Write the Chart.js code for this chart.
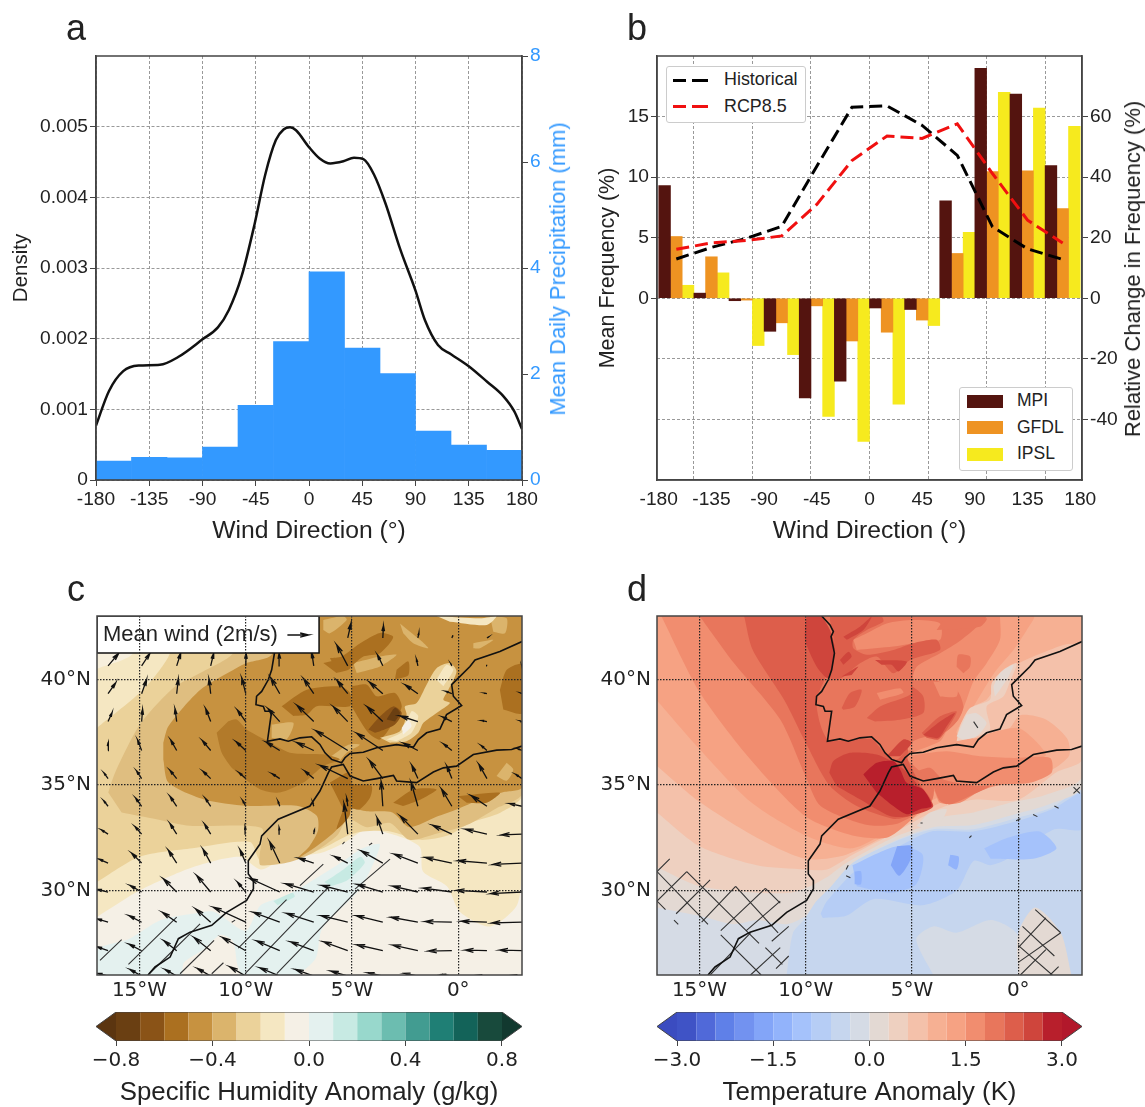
<!DOCTYPE html>
<html>
<head>
<meta charset="utf-8">
<title>Wind direction and anomalies</title>
<script src="https://cdn.jsdelivr.net/npm/chart.js@4"></script>
<style>
  body { margin: 0; background: #fff; }
  canvas { position: absolute; }
  .txt { position: absolute; white-space: nowrap; color: #222; font-family: "Liberation Sans", sans-serif; line-height: 1; transform: translate(-50%, -50%); }
  .box { position: absolute; background: #fff; border: 1px solid #ccc; border-radius: 3px; box-sizing: border-box; }
  .swatch { position: absolute; }
</style>
</head>
<body>
<canvas id="panelA" width="575" height="550" style="left:0;top:0"></canvas>
<canvas id="panelB" width="570" height="550" style="left:575px;top:0"></canvas>
<canvas id="panelC" width="575" height="450" style="left:0;top:570px"></canvas>
<canvas id="panelD" width="570" height="450" style="left:575px;top:570px"></canvas>
<canvas id="barC" width="575" height="107" style="left:0;top:1000px"></canvas>
<canvas id="barD" width="570" height="107" style="left:575px;top:1000px"></canvas>
<script>
// panel a
const densityDir = [-180,-169,-157,-144,-126,-110.6,-90,-77,-67.6,-57,-46,-37,-28,-21.5,-16,-11,0,9,18,29,38,46,55,64.5,77,90,98,109,120,135,150.5,164,173.5,180];
const densityVal = [.00077,.00126,.00154,.00162,.00163,.00174,.00199,.00216,.00241,.00288,.00362,.00432,.00481,.00496,.00499,.00495,.00471,.00455,.00448,.00451,.00456,.00454,.00432,.00392,.00327,.00268,.00226,.00191,.00178,.00161,.00139,.00119,.00097,.00072];
const binCentres = [-165,-135,-105,-75,-45,-15,15,45,75,105,135,165];
const precip = [.357,.43,.417,.62,1.41,2.61,3.93,2.49,2.01,.925,.66,.56];

// panel b
const historical = [3.24,4.2,4.95,5.93,10.9,15.77,15.88,14.27,11.8,5.9,4.08,3.2];
const rcp85 = [4.05,4.57,4.77,5.15,7.75,11.37,13.4,13.2,14.4,10.3,6.45,4.57];
const mpi = [37.2,1.7,-.8,-10.9,-32.9,-27.4,-3.2,-3.7,32.2,75.9,67.4,43.8];
const gfdl = [20.4,13.7,-.6,-8.1,-2.5,-14.1,-11.2,-7.2,14.8,41.8,42.1,29.6];
const ipsl = [4.3,8.4,-15.6,-18.6,-39,-47.3,-35,-9,21.8,68,62.8,56.8];
const dirTicks = [-180,-135,-90,-45,0,45,90,135,180];

// coast lines, lon/lat
const coastIberia = [[-9.25,43],[-8.86,42.58],[-8.7,42.26],[-8.81,42.02],[-8.65,41.24],[-8.78,40.45],[-8.94,39.98],[-9.25,39.43],[-9.49,39.2],[-9.52,38.8],[-9.17,38.72],[-9.09,38.49],[-8.78,38.49],[-8.86,37.94],[-8.98,37.07],[-8.39,37.18],[-8,37.07],[-7.45,37.23],[-6.9,37.28],[-6.51,36.92],[-6.27,36.52],[-5.96,36.21],[-5.49,36.05],[-5.33,36.29],[-5.09,36.49],[-4.47,36.55],[-3.84,36.76],[-2.9,36.91],[-2.11,36.79],[-1.88,37.15],[-1.49,37.47],[-.86,37.65],[-.55,38.33],[.16,38.76],[-.23,39.2],[-.31,39.75],[0,40.06],[.55,40.61],[.79,40.92],[1.96,41.32],[3,41.79]];
const coastAfrica = [[-14.6,26],[-14.27,26.38],[-13.56,26.85],[-13.17,27.72],[-12.62,28.03],[-11.6,28.35],[-10.9,28.97],[-9.96,29.53],[-9.64,30.08],[-9.64,30.47],[-9.88,30.78],[-9.88,31.41],[-9.33,32.2],[-9.25,32.59],[-8.47,33.38],[-6.98,34],[-6.51,34.71],[-6.11,35.58],[-5.96,35.85],[-5.41,35.97],[-5.09,35.42],[-4.47,35.19],[-3.84,35.3],[-3.05,35.45],[-2.9,35.19],[-1.96,35.11],[-1.17,35.61],[-.7,35.81],[-.08,35.89],[.71,36.44],[1.81,36.65],[2.51,36.68],[3,36.84]];

// panel c wind grid, quiver units (63 = 2 m/s)
const windLon = [-16.48,-14.9,-13.25,-11.65,-10,-8.4,-6.8,-5.2,-3.55,-1.9,-.3,1.35,3];
const windLat = [41.96,40.64,39.32,38,36.63,35.3,33.99,32.67,31.3,29.93,28.5,27.15,25.95];
const windU = [
  [null,null,null,null,null,null,null,10,2,3,3,5,2],
  [32,25,12,9,1,-2,-6,-33,-16,-4,-3,-1,-1],
  [23,15,5,-5,-12,-27,-30,-32,-40,-38,-18,-8,-4],
  [12,3,-5,-15,-25,-35,-50,-43,-47,-53,-28,-15,-5],
  [0,-12,-18,-25,-29,-40,-51,-96,-78,-43,-25,-17,-12],
  [-12,-15,-20,-23,-20,-23,-27,-83,-40,-18,-15,-24,-19],
  [-13,-18,-20,-16,-9,-5,-3,-3,-5,-20,-31,-47,-37],
  [-20,-20,-20,-18,-2,-2,2,-11,-17,-53,-58,-65,-62],
  [-27,-30,-25,-23,-17,-30,-45,-40,-65,-71,-80,-87,-87],
  [-33,-35,-40,-42,-25,-90,-85,-78,-77,-76,-86,-92,-94],
  [-33,-38,-43,-45,-97,-80,-82,-80,-80,-81,-80,-77,-90],
  [-33,-38,-38,-50,-70,-70,-70,-73,-78,-75,-70,-65,-67],
  [-30,-35,-35,-40,-48,-60,-55,-50,-45,-40,-30,-25,-25]
];
const windV = [
  [null,null,null,null,null,null,null,45,37,15,8,3,2],
  [38,38,38,38,38,38,40,63,33,20,6,3,2],
  [33,43,45,45,48,48,45,40,35,27,7,2,2],
  [27,37,39,39,35,39,49,45,45,17,14,3,2],
  [24,32,32,30,27,25,24,60,52,22,20,15,5],
  [17,23,25,22,18,15,23,40,55,40,38,43,13],
  [17,25,30,24,17,15,12,25,75,72,52,32,8],
  [13,23,32,30,23,20,13,92,49,55,27,15,-2],
  [12,30,39,42,40,64,15,20,37,27,17,7,-4],
  [8,20,40,50,30,41,25,20,23,18,12,5,-5],
  [10,20,30,40,45,30,27,20,20,15,2,3,-2],
  [12,20,30,40,40,30,27,27,18,17,-1,2,2],
  [8,20,20,23,28,25,20,15,10,8,5,3,3]
];
const keyArrowLon = [-8.04];
const keyArrowLat = [42.1];
const keyArrowU = [63];
const keyArrowV = [0];

// humidity contours, lon/lat, outer to inner
const humTeal = [[-17,26],[-17,27.2],[-15.5,27.7],[-14,28.6],[-12.5,28.9],[-11.5,29],[-10,28.1],[-9.3,29.3],[-8.1,29.75],[-6.5,30.7],[-5.4,31.4],[-4.5,32],[-3.7,32.2],[-3.9,31.5],[-4.6,30.1],[-6.4,28.2],[-6.7,26.8],[-7.5,26]];
const humCreamBlob = [[-13,26],[-12.9,26.6],[-12,27.2],[-11.2,27.9],[-10.6,27.6],[-10.4,26.5],[-10.2,26]];
const humTeal2a = [[-6.3,30.4],[-5.4,31],[-4.6,31.6],[-4.4,31.3],[-5.2,30.5],[-6,30.2]];
const humTeal2b = [[-8.7,29.5],[-7.8,29.9],[-7.7,29.7],[-8.5,29.3]];
const humL1 = [[-17,28.75],[-15,30],[-12.5,31.1],[-10.3,31.6],[-9.3,31],[-8.4,31.4],[-7.6,31.6],[-6.4,31.8],[-5.3,32.3],[-4.3,32.9],[-2.9,32.6],[-1.8,32.05],[-1.66,30.9],[-.53,30.2],[.07,29],[1.5,28.3],[2.76,29.3],[3,31.2],[3,43],[-17,43]];
const humCorner = [[-17,40.5],[-15.3,41.24],[-15.3,43],[-17,43]];
const humL2 = [[-17,30.4],[-15,31.6],[-12.5,32],[-9.8,32.3],[-9.3,31.4],[-8.06,31.4],[-6.36,32],[-5.2,32.6],[-4.5,32.8],[-3.2,32.8],[-1.8,32.4],[-.5,32.6],[.55,33.2],[2,33.7],[3,34.5],[3,43],[-13.3,43],[-13.57,41.24],[-14.04,40.46],[-14.98,39.36],[-17,37.7]];
const humL3 = [[-16.47,34.64],[-16.15,35.58],[-14.98,37.86],[-13.41,39.59],[-12.15,40.3],[-10.59,41.24],[-10,43],[3,43],[3,34.6],[1.8,33.9],[.4,33.1],[-1,32.7],[-2.3,32.4],[-3.2,33.2],[-4.3,33],[-5.2,33.4],[-5.7,32.6],[-6.8,31.8],[-7.92,31.35],[-9.3,31.2],[-9.35,31.65],[-9.2,32.9],[-9.96,33.07],[-12.62,33.07],[-14.2,33.38],[-15.84,33.7]];
const humL4 = [[-13.88,37],[-13.64,37.78],[-12.15,39.5],[-10.43,40.54],[-9.96,40.77],[-8.78,41.16],[-8.6,43],[3,43],[3,34.9],[2.1,34.65],[1,34.3],[-.05,33.85],[-1,33.5],[-2.3,33],[-3.1,33.7],[-4.3,33.75],[-5.2,33.85],[-5.7,32.9],[-6.8,32],[-7.6,31.5],[-7,32.1],[-6.6,32.85],[-6.66,33.54],[-7.6,34.01],[-9.96,34.01],[-12,34.32],[-13.64,35.11],[-13.88,36.2]];
const humL5a = [[-11.37,37.47],[-11.13,36.53],[-10.58,35.74],[-9.33,34.8],[-8.39,34.64],[-7.29,35.11],[-6.35,35.9],[-5.57,36.21],[-6.35,36.45],[-7.92,36.53],[-9.1,37.15],[-9.96,37.63],[-10.43,38.1],[-10.82,38.02]];
const humL5b = [[-5.02,39.67],[-4.3,39.75],[-3.84,39.2],[-2.98,39.35],[-2.66,38.72],[-3.06,37.94],[-3.68,37.15],[-4.23,37.47],[-5.02,38.72]];
const humL5c = [[1.96,39.5],[2.28,40.45],[3,40.7],[3,38.4],[2.12,38.57]];
const humL5d = [[-6.04,41],[-5.5,41.08],[-4.63,41.7],[-3.68,42.2],[-3.06,42],[-3.68,41.24],[-4.47,41.08],[-5.25,40.45],[-5.72,40.45]];
const humL5e = [[-2.9,40.45],[-2.35,40.85],[-2.35,40.2],[-2.98,40]];
const humL5g = [[-5.02,35.03],[-4.08,34.95],[-4.15,34.4],[-4.63,33.85],[-5.02,33.9]];
const humL5h = [[-3.06,34.16],[-2.1,34.79],[-1.02,34.79],[-1.8,34.3],[-2.6,34]];
const humL5i = [[0,34.47],[1.96,34.63],[1.34,34.16],[.4,34.16]];
const humL5j = [[-8.31,38.73],[-7.13,39.51],[-5.57,39.67],[-5.1,39.36],[-5.1,38.73],[-6.66,38.73],[-7.13,38.33],[-7.76,38.26]];
const humL5k = [[-6.35,40.77],[-5.1,41],[-5.1,40.5],[-5.73,40.3]];
const humL5m = [[-6.04,35.11],[-5.1,35.58],[-5.1,33.6],[-5.72,32.9],[-5.41,33.85]];
const humCore = [[-4.23,37.62],[-3.68,38.25],[-3.06,38.72],[-2.66,38.41],[-2.98,37.86],[-3.68,37.54],[-3.92,37.47]];
const humCore2 = [[-3.37,38.1],[-2.98,38.65],[-2.74,38.41],[-2.98,38]];
const humRidge = [[-3.68,37.23],[-2.74,37.54],[-2.43,38.33],[-2.51,38.72],[-1.96,38.88],[-1.49,39.75],[-1.02,40.53],[-.39,40.77],[-.08,40.37],[-.47,39.5],[-.7,39.04],[-.39,38.88],[-1.02,38.41],[-1.64,37.94],[-1.88,37.47],[-2.43,37.07],[-3.21,37]];
const humRidge2a = [[-3.37,37.15],[-2.59,37.54],[-2.2,38.49],[-1.88,38.25],[-2.2,37.47],[-2.9,37.07]];
const humRidge2b = [[-1.02,39.98],[-.55,40.69],[-.23,40.45],[-.7,39.67]];
const humRidge3 = [[-2.66,37.7],[-2.35,38.09],[-2.2,37.78],[-2.59,37.39]];
const humTopStrip = [[-1.02,43],[1.02,42.89],[1.8,43],[1.34,42.57],[-.39,42.73]];
const humTanA = [[-6.35,42.81],[-5.41,43],[-5.25,42.81],[-6.04,42.18],[-6.35,42.34]];
const humTanB = [[-2.74,42.65],[-1.8,41.87],[-1.41,41.47],[-2.12,41.71],[-2.59,42.18]];
const humTanC = [[-4.94,40.77],[-3.68,41.08],[-2.9,41.16],[-3.68,40.61],[-4.78,40.3]];
const humTanD = [[.71,41.71],[1.65,41.87],[1.02,41.47],[.71,41.47]];
const humTanE = [[1.5,42.97],[2.28,42.89],[2.2,42.18],[1.65,42.26]];
const humTanF = [[2.28,36.05],[2.59,35.73],[2.28,35.2],[1.8,35.42]];
const humTanG = [[-5.96,36.37],[-5.17,36.9],[-4.63,36.9],[-5.25,36.52],[-5.64,36.05]];
const humTanH = [[-8.78,37.86],[-7.76,37.94],[-8.08,37.15],[-8.78,37.23]];

// humidity hatching, lon0,lat0,lon1,lat1
const humHatch = [[-16.86,26.69,-15.84,27.68],[-15.52,26.5,-13.25,28.74],[-14.54,26.06,-12.15,28.42],[-13.09,26.06,-11.49,27.64],[-11.6,26.06,-11.05,26.58],[-10.66,28.5,-10.5,28.6],[-10.35,27.27,-8.08,29.57],[-10.03,26.06,-6.12,30.15],[-8.54,26.06,-4.7,30.07],[-4.86,30.07,-3.21,31.49],[-7.45,30.23,-6.35,31.25],[-5.45,32.2,-5.35,32.3],[-4.2,32.15,-4.05,32.25]];

// temperature contours, lon/lat, outer to inner
const tmpCold1 = [[-10.9,26],[-10.6,28],[-10,28.7],[-9.6,29.4],[-8.9,30.1],[-7.8,31.3],[-5.6,32.4],[-4,32.9],[-2.1,32.9],[-.2,33.4],[1.5,33.9],[3,34.7],[3,26],[.7,26],[-.1,28],[-1.3,28.6],[-2.9,28],[-4,28.3],[-4.8,27.7],[-4,26]];
const tmpCold2 = [[-9.3,28.9],[-9,29.5],[-7.6,31],[-5.6,32.1],[-4.1,32.8],[-2.1,32.8],[0,33.3],[1.7,33.9],[3,34.6],[3,32.9],[1.7,32.9],[-.5,31.5],[-1.3,31.2],[-2.1,31.4],[-2.9,30],[-4.5,29.3],[-6.8,29.6],[-8.1,28.8],[-9.2,28.7]];
const tmpCold3a = [[-7.8,31.2],[-5.7,32.1],[-4.5,31.7],[-4.8,30.3],[-6,29.9],[-7.6,30.2]];
const tmpCold3b = [[-1.6,32],[-.5,32.5],[1,32.8],[1.8,32],[.7,31.5],[-1.3,31.5]];
const tmpCold4a = [[-5.7,32.1],[-5,32.1],[-5.1,31.4],[-5.6,30.7],[-6,31.2]];
const tmpCold4b = [[-3.2,31.7],[-2.8,31.6],[-2.9,31],[-3.3,31.2]];
const tmpCold4c = [[-7.7,30.9],[-7.4,30.9],[-7.4,30.3],[-7.7,30.3]];
const tmpW0 = [[-17,29.2],[-15,28.8],[-13.4,28.4],[-12.3,28.6],[-10.9,28.4],[-10,28.8],[-9.5,29.5],[-8.9,30.1],[-7.8,31.3],[-5.7,32.4],[-4,33],[-2.1,33.1],[-.2,33.6],[1.5,34.1],[3,34.9],[3,43],[-17,43]];
const tmpW0b = [[0,26],[0,28],[.8,29.2],[2,28],[2.5,26]];
const tmpW1 = [[-17,31.1],[-15,30.2],[-12.3,29.9],[-10.7,29.9],[-9.8,30.2],[-8.9,30.7],[-8.1,31.3],[-5.9,32.5],[-4.3,33.1],[-3.5,33.5],[-2.1,33.7],[-.2,34.2],[1.2,34.5],[3,35.4],[3,43],[-17,43]];
const tmpW2 = [[-17,33.7],[-15,32.1],[-12.3,31.2],[-10,31],[-9,31],[-7.8,31.7],[-5.7,32.8],[-4.3,33.6],[-3.4,34],[-2.1,34.3],[0,34.3],[1.8,35.6],[3,36.2],[3,43],[-17,43]];
const tmpW3 = [[-17,35.9],[-15,34.2],[-12.3,32.5],[-10,31.5],[-8.1,31.7],[-5.7,32.9],[-4,34],[-2.7,34.5],[-1.5,35],[0,35.7],[1.5,35.7],[2.4,36.4],[2.3,37.2],[1.3,38.1],[.1,38.3],[-.5,37.6],[-2.1,37.1],[-2.9,37.2],[-2.74,37.78],[-2.43,38.56],[-1.49,39.04],[-.86,39.98],[-.23,40.61],[.71,41.08],[2.12,41.63],[3,41.8],[3,43],[-17,43]];
const tmpW4 = [[-17,39],[-15,36.7],[-12.6,34.2],[-10,32.6],[-7.8,32],[-5.7,33.1],[-4,34.3],[-2.7,34.7],[-1.5,35.3],[0,36.1],[1.3,36.4],[.7,37.2],[0,37.7],[-1.2,37.5],[-2.1,37.2],[-2.9,37.46],[-2.58,38.1],[-2.11,38.72],[-1.64,39.5],[-1.02,40.45],[-.23,41.39],[.4,42.34],[.71,43],[-17,43]];
const tmpW5 = [[-16.8,43],[-15,39.4],[-12.6,36.2],[-10,33.5],[-7.8,32.6],[-6.2,32.5],[-5.2,33.2],[-4,34.5],[-4.5,35.5],[-5.2,36.3],[-4.8,36.6],[-3.68,37.07],[-3.37,37.54],[-2.82,38.1],[-2.43,39.04],[-2.11,39.9],[-1.49,40.76],[-.86,41.87],[-.86,43]];
const tmpSeaBand = [[-5.25,36.36],[-3.37,36.6],[-1.8,36.36],[-.23,36.28],[1.5,36.28],[1.57,35.58],[.55,35.1],[-.86,35],[-1.8,34.71],[-2.74,34.16],[-3.68,34.16],[-4,34.79],[-4.94,35.26]];
const tmpSeaDark = [[-4.78,35.65],[-4.15,35.81],[-3.53,35.26],[-1.96,34.95],[-1.33,34.95],[-2.27,34.48],[-3.21,34.08],[-3.68,34.24],[-4,34.95]];
const tmpW6 = [[-15,43],[-13.4,40.8],[-11.2,38.1],[-10,35.4],[-9.3,34],[-7.1,33.1],[-5.6,33.2],[-4.1,34.2],[-4,35],[-4.9,35.9],[-5.3,36.3],[-4.9,36.6],[-6.2,36.7],[-6.8,37.2],[-8.9,37.2],[-9.3,39.2],[-8.7,40.6],[-8.2,41.7],[-7.8,43]];
const tmpW7 = [[-12.9,43],[-12.5,41.4],[-11,39],[-10,37],[-8.9,35],[-7.6,34],[-5.9,33.4],[-5.2,33.5],[-4.1,34.2],[-4.6,35],[-5.2,36.2],[-5.2,36.7],[-5.6,37.2],[-8.9,37.2],[-9.2,37.8],[-9.5,39],[-9.1,40],[-8.7,41.1],[-8.8,42.2],[-9.2,43]];
const tmpLandBase = [[-9.2,43],[-8.62,41.4],[-8.86,40.06],[-9.49,38.88],[-8.94,37.15],[-6.98,37.23],[-6.43,36.68],[-5.72,36.2],[-4.94,37.07],[-4,37.38],[-3.37,37.54],[-2.82,38.1],[-2.58,38.72],[-2.9,39.5],[-4,39.98],[-4.94,39.98],[-4.78,40.6],[-3.68,41.24],[-2.9,41.71],[-2.11,42.34],[-1.49,42.97]];
const tmpLandLightA = [[-7.76,41.87],[-7.13,42.18],[-6.19,42.65],[-4.94,42.81],[-3.68,42.65],[-3.68,41.87],[-4.94,41.71],[-5.88,41.55],[-7.6,41.39]];
const tmpLandLightB = [[-4,39.9],[-2.9,39.74],[-2.9,39.19],[-3.68,39.19]];
const tmpLandLightC = [[-6.66,39.35],[-5.56,39.58],[-5.41,39.35],[-6.5,39.04]];
const tmpLandMidA = [[-2.9,40.6],[-2.82,41.16],[-2.27,41.08],[-2.27,40.6],[-2.58,40.29]];
const tmpLandMidB = [[-3.52,42.81],[-1.49,42.89],[-1.8,42.49],[-3.84,42.34]];
const tmpLand7a = [[-8.86,42.8],[-8.62,41.4],[-8.86,40.06],[-8.31,40.06],[-7.45,40.76],[-6.66,41.08],[-5.88,40.29],[-5.09,40.92],[-3.68,41.39],[-3.84,41.87],[-4.94,41.71],[-5.88,41.39],[-7.13,41.16],[-7.76,41.47],[-7.76,41.87],[-7.13,42.34],[-6.35,42.73],[-6.43,42.97],[-8.86,42.97]];
const tmpLand7b = [[-8.31,38.64],[-7.92,39.35],[-7.37,39.5],[-7.68,38.72],[-8.23,38.56]];
const tmpLand7c = [[-7.13,38.17],[-6.5,38.72],[-5.09,39.27],[-5.02,39.66],[-4.47,39.19],[-4.47,38.41],[-5.56,38.09],[-6.74,38.01]];
const tmpLand7d = [[-4.54,37.46],[-3.68,38.25],[-2.9,38.48],[-3.37,37.62],[-3.76,37.15],[-4.31,37.23]];
const tmpW8a = [[-9.96,43],[-10.03,41.87],[-9.49,40.61],[-8.94,40.06],[-8.62,41.39],[-8.86,42.34],[-9.25,43]];
const tmpW8b = [[-8.89,35.58],[-8.7,36.13],[-7.92,36.52],[-6.66,36.44],[-5.56,35.89],[-4.94,35.26],[-4,34],[-5.1,33.53],[-6.04,33.53],[-7.45,34.32],[-8.55,34.95]];
const tmpW8c = [[-6.19,36.36],[-5.41,37.15],[-5.02,36.99],[-5.56,36.36]];
const tmpLand8a = [[-8.39,40.92],[-7.99,41.31],[-7.84,41.08],[-8.23,40.69]];
const tmpLand8b = [[-6.74,40.92],[-5.25,40.84],[-5.64,40.37],[-5.96,40.69],[-6.43,40.69]];
const tmpLand8c = [[-8.23,42.02],[-7.45,42.49],[-6.9,42.97],[-7.29,42.34],[-8.07,41.87]];
const tmpLand8d = [[-8.31,40.13],[-7.53,40.61],[-7.84,40.21]];
const tmpLand8e = [[-4.47,37.38],[-3.68,38.01],[-2.98,38.41],[-3.37,37.78],[-3.76,37.23],[-4.31,37.3]];
const tmpW9 = [[-7.29,35.5],[-6.66,36.05],[-5.88,36.13],[-5.56,35.73],[-5.25,35.1],[-4.47,34.79],[-4.07,34],[-4.62,33.85],[-5.25,33.61],[-5.88,34],[-6.66,34.63]];
const tmpPale1 = [[-2.9,37.07],[-2.74,37.78],[-2.27,38.64],[-1.33,39.04],[-1.25,39.82],[-.7,40.45],[-.07,40.76],[-.39,39.9],[-.7,39.19],[-1.49,38.72],[-1.33,37.62],[-2.11,37.23]];
const tmpPale2a = [[-1.17,39.66],[-.86,40.29],[-.23,40.69],[-.47,40.1],[-.86,39.51],[-1.1,39.19]];
const tmpPale2b = [[-2.43,38.33],[-1.96,38.4],[-1.49,37.93],[-1.96,37.3],[-2.58,37.15],[-2.9,37.3]];
const tmpPale2c = [[-4.78,33.06],[-4.15,33.69],[-3.37,33.85],[-3.68,33.22],[-4.31,32.9]];

// temperature cross hatching, lon0,lat0,lon1,lat1
const tmpHatch = [[-17,30.9,-14.6,28.4],[-15.6,30.9,-12.2,27.5],[-17,29.5,-16.6,29.1],[-13.3,30.2,-11.3,28],[-11.9,30.1,-11.2,29.4],[-14,27.9,-12.1,26],[-11.9,27.3,-11.1,26.5],[-17,30.9,-16.4,31.5],[-17,29.5,-15.6,30.9],[-16.1,28.9,-14.5,30.5],[-14.9,28.5,-13.3,30.2],[-14,28.1,-11.9,30.1],[-12.8,28.1,-11.2,29.5],[-11.6,27.6,-10.8,28.3],[-14.5,26,-12.6,28],[-12.6,26,-11.2,27.3],[-11.4,26.3,-10.8,26.9],[0,27.3,1.3,28.7],[.8,29.1,2,28],[0,26.6,2,28],[.2,28.3,1.7,26.9],[0,27.4,1.6,26],[.1,26,1.3,27.2],[1.5,26,1.9,26.4],[2.6,34.6,2.9,34.9],[2.6,34.9,2.9,34.6],[-2.1,38,-1.9,37.7],[-4.6,33.2,-4.5,33.2],[-.1,33.3,.1,33.4],[.7,33.6,.9,33.5],[1.7,34,1.9,33.9],[-2.3,32.5,-2.2,32.6],[-8.1,31,-8,31.2],[-8.1,30.7,-7.9,30.6],[-16.2,28.6,-16,28.4]];

// colour bars
const humLevels = [-.8,-.7,-.6,-.5,-.4,-.3,-.2,-.1,0,.1,.2,.3,.4,.5,.6,.7,.8];
const humColors = ['#6a3f12','#8a5317','#ab7020','#c79240','#dbb46c','#ebd29a','#f5e7c2','#f5f0e6','#e4f1ef','#c7eae3','#98d8cc','#6cbdb0','#429c91','#1f7f75','#136359','#184a3c'];
const humTicks = [-.8,-.4,0,.4,.8];
const tmpLevels = [-3,-2.7,-2.4,-2.1,-1.8,-1.5,-1.2,-.9,-.6,-.3,0,.3,.6,.9,1.2,1.5,1.8,2.1,2.4,2.7,3];
const tmpColors = ['#3f53c6','#5069d9','#5f80e8','#7292f0','#83a5f8','#92b3fb','#a5c2fb','#b6cdf5','#c6d6ee','#d5dbe5','#e3d9d3','#eed0c0','#f4c1aa','#f6b093','#f6a283','#f18d6f','#e8765c','#dd5e4b','#cf453c','#b81f2c'];
const tmpTicks = [-3,-1.5,0,1.5,3];

Chart.defaults.font.family = '"Liberation Sans", sans-serif';
Chart.defaults.color = '#222';
Chart.defaults.animation = false;
Chart.defaults.responsive = false;
Chart.defaults.plugins.legend.display = false;
Chart.defaults.plugins.tooltip.enabled = false;

const frame = {
  id: 'frame',
  afterDraw(chart) {
    const a = chart.chartArea, c = chart.ctx;
    c.save();
    c.strokeStyle = '#444';
    c.lineWidth = 1.5;
    c.strokeRect(a.left, a.top, a.right - a.left, a.bottom - a.top);
    c.restore();
  }
};

const fixTicks = vals => s => { s.ticks = vals.map(v => ({value: v})); };
const tickFont = {size: 19.2};
const border = {color: '#444', width: 1.5, dash: [3, 2]};

function toPoints(list) {
  return list.map(p => ({x: p[0], y: p[1]}));
}

function poly(list, color) {
  return {data: toPoints(list), showLine: true, fill: 'shape', backgroundColor: color, borderWidth: 0, pointRadius: 0, tension: 0.25};
}

function stroke(points, color, width) {
  return {data: points, showLine: true, fill: false, borderColor: color, borderWidth: width, pointRadius: 0, tension: 0};
}

function segments(list) {
  const out = [];
  list.forEach(s => {
    out.push({x: s[0], y: s[1]}, {x: s[2], y: s[3]}, {x: NaN, y: NaN});
  });
  return out;
}

// quiver arrows built from the wind arrays
function arrows(lons, lats, U, V) {
  const k = 63.7, out = [];
  lats.forEach((lat, r) => {
    lons.forEach((lon, c) => {
      if (U[r][c] === null) return;
      const dx = U[r][c] / k, dy = V[r][c] / k;
      const len = Math.hypot(dx, dy);
      const h = Math.min(0.4, len * 0.45), ang = Math.atan2(dy, dx);
      const tip = {x: lon + dx, y: lat + dy};
      const barb = t => ({x: tip.x - h * Math.cos(ang + t), y: tip.y - h * Math.sin(ang + t)});
      out.push({x: lon, y: lat}, tip, barb(0.24), tip, barb(-0.24), tip, {x: NaN, y: NaN});
    });
  });
  return out;
}

function dirAxis(ticks) {
  return {
    type: 'linear', offset: false, grid: {display: false, offset: false, tickColor: '#444', tickLength: 6, drawTicks: true},
    border: {color: '#444', width: 1.5},
    ticks: {font: tickFont, padding: 2, maxRotation: 0, autoSkip: false, callback: v => String(v)},
    afterBuildTicks: fixTicks(ticks),
    title: {display: true, text: 'Wind Direction (°)', font: {size: 24.7, lineHeight: 1}, padding: {top: 0, bottom: 6.5}},
    afterFit: s => { s.height = 70; }
  };
}

// panel a
new Chart(document.getElementById('panelA'), {
  type: 'bar',
  data: {
    datasets: [
      {type: 'line', data: densityDir.map((d, i) => ({x: d, y: densityVal[i]})), borderColor: '#111', borderWidth: 2.5, pointRadius: 0, cubicInterpolationMode: 'monotone', yAxisID: 'y', order: 0},
      {data: binCentres.map((d, i) => ({x: d, y: precip[i]})), backgroundColor: '#3399ff', categoryPercentage: 1, barPercentage: 1, borderWidth: 0, yAxisID: 'yR', order: 1}
    ]
  },
  options: {
    layout: {padding: {top: 56}},
    scales: {
      x: Object.assign(dirAxis(dirTicks), {min: -180, max: 180, grid: {display: true, offset: false, color: '#999', tickColor: '#444', tickLength: 6}, border: border}),
      y: {
        position: 'left', min: 0, max: .006, grid: {color: '#999', tickColor: '#444', tickLength: 6}, border: border,
        ticks: {font: tickFont, padding: 2, callback: v => v === 0 ? '0' : v.toFixed(3)},
        afterBuildTicks: fixTicks([0, .001, .002, .003, .004, .005]),
        title: {display: true, text: 'Density', font: {size: 20.5, lineHeight: 1}, padding: {top: 11, bottom: 0}},
        afterFit: s => { s.width = 96; }
      },
      yR: {
        position: 'right', min: 0, max: 8, grid: {drawOnChartArea: false, tickColor: '#444', tickLength: 6}, border: {color: '#444', width: 1.5},
        ticks: {font: tickFont, color: '#3399ff', padding: 2, callback: v => String(v)},
        afterBuildTicks: fixTicks([0, 2, 4, 6, 8]),
        afterFit: s => { s.width = 53; }
      }
    }
  },
  plugins: [frame]
});

// panel b
function barSet(values, color) {
  return {data: binCentres.map((d, i) => ({x: d, y: values[i]})), backgroundColor: color, categoryPercentage: 1, barPercentage: 1, borderWidth: 0, yAxisID: 'yR', order: 1};
}
function dashSet(values, color) {
  return {type: 'line', data: binCentres.map((d, i) => ({x: d, y: values[i]})), borderColor: color, borderWidth: 3, borderDash: [13, 6], pointRadius: 0, tension: 0, yAxisID: 'y', order: 0};
}
new Chart(document.getElementById('panelB'), {
  type: 'bar',
  data: {
    datasets: [
      dashSet(rcp85, '#f01010'),
      dashSet(historical, '#000'),
      barSet(mpi, '#54140f'),
      barSet(gfdl, '#ee9322'),
      barSet(ipsl, '#f6ea1e')
    ]
  },
  options: {
    layout: {padding: {top: 56}},
    scales: {
      x: Object.assign(dirAxis(dirTicks), {min: -181.5, max: 181.5}),
      xGrid: {
        type: 'linear', position: 'bottom', min: -181.5, max: 181.5, offset: false,
        grid: {color: '#999', offset: false, drawTicks: false}, border: {display: false, dash: [3, 2]},
        ticks: {display: false},
        afterBuildTicks: fixTicks([-150, -100, -50, 0, 50, 100, 150]),
        afterFit: s => { s.height = 0; }
      },
      y: {
        position: 'left', min: -15, max: 20, grid: {drawOnChartArea: false, tickColor: '#444', tickLength: 6}, border: {color: '#444', width: 1.5},
        ticks: {font: tickFont, padding: 2, callback: v => String(v)},
        afterBuildTicks: fixTicks([0, 5, 10, 15]),
        title: {display: true, text: 'Mean Frequency (%)', font: {size: 21.5, lineHeight: 1}, padding: {top: 22, bottom: 0}},
        afterFit: s => { s.width = 82; }
      },
      yR: {
        position: 'right', min: -60, max: 80, grid: {color: '#999', tickColor: '#444', tickLength: 6}, border: border,
        ticks: {font: tickFont, padding: 2, callback: v => String(v)},
        afterBuildTicks: fixTicks([-40, -20, 0, 20, 40, 60]),
        afterFit: s => { s.width = 63; }
      }
    }
  },
  plugins: [frame]
});

// maps
const mapFont = {family: '"DejaVu Sans"', size: 20};
const mapGrid = {color: '#222', lineWidth: 1.2, z: 1, drawTicks: false};
function mapOptions(leftWidth, rightPad) {
  return {
    layout: {padding: {top: 46, right: rightPad}},
    scales: {
      x: {
        type: 'linear', min: -17, max: 3, grid: mapGrid, border: {display: false, dash: [1.5, 1.5]},
        ticks: {font: mapFont, padding: 4, maxRotation: 0, autoSkip: false, callback: v => v === 0 ? '0°' : Math.abs(v) + '°W'},
        afterBuildTicks: fixTicks([-15, -10, -5, 0]),
        afterFit: s => { s.height = 45; }
      },
      y: {
        type: 'linear', min: 26, max: 43, grid: mapGrid, border: {display: false, dash: [1.5, 1.5]},
        ticks: {font: mapFont, padding: 6, callback: v => v + '°N'},
        afterBuildTicks: fixTicks([30, 35, 40]),
        afterFit: s => { s.width = leftWidth; }
      }
    }
  };
}
const wholeMap = [[-17,26],[3,26],[3,43],[-17,43]];
const flatPoly = (list, color) => Object.assign(poly(list, color), {tension: 0});
const coasts = [stroke(toPoints(coastIberia), '#111', 1.6), stroke(toPoints(coastAfrica), '#111', 1.6)];

const humLayers = [
  flatPoly(wholeMap, '#f5f0e6'),
  poly(humTeal, '#e4f1ef'), poly(humCreamBlob, '#f5f0e6'), poly(humTeal2a, '#c7eae3'), poly(humTeal2b, '#c7eae3'),
  poly(humL1, '#f5e7c2'), poly(humCorner, '#f7efdc'), poly(humL2, '#ebd29a'), poly(humL3, '#dfbe80'), poly(humL4, '#c79240'),
  poly(humTanA, '#dbb46c'), poly(humTanB, '#dbb46c'), poly(humTanC, '#dbb46c'), poly(humTanD, '#dbb46c'), poly(humTanE, '#dbb46c'), poly(humTanF, '#dbb46c'), poly(humTanG, '#dbb46c'), poly(humTanH, '#dbb46c'),
  poly(humL5a, '#b27a2a'), poly(humL5b, '#ab7020'), poly(humL5c, '#ab7020'), poly(humL5d, '#ab7020'), poly(humL5e, '#ab7020'), poly(humL5g, '#ab7020'), poly(humL5h, '#ab7020'), poly(humL5i, '#ab7020'), poly(humL5j, '#ab7020'), poly(humL5k, '#ab7020'), poly(humL5m, '#ab7020'),
  poly(humRidge, '#ebd29a'), poly(humRidge2a, '#f5e7c2'), poly(humRidge2b, '#f5e7c2'), poly(humRidge3, '#f5f0e6'), poly(humTopStrip, '#f5e7c2'),
  poly(humCore, '#8a5317'), poly(humCore2, '#6a3f12'),
  stroke(segments(humHatch), '#333', 1.1),
  ...coasts,
  stroke(arrows(windLon, windLat, windU, windV), '#111', 1.3),
  Object.assign(flatPoly([[-17,43],[-6.55,43],[-6.55,41.25],[-17,41.25],[-17,43]], '#fff'), {borderColor: '#111', borderWidth: 1.5}),
  stroke(arrows(keyArrowLon, keyArrowLat, [keyArrowU], [keyArrowV]), '#111', 1.3)
];
new Chart(document.getElementById('panelC'), {
  type: 'scatter',
  data: {datasets: humLayers.reverse()},
  options: mapOptions(97, 53),
  plugins: [frame]
});

const tmpLayers = [
  flatPoly(wholeMap, '#d5dbe5'),
  poly(tmpCold1, '#c6d6ee'), poly(tmpCold2, '#b6cdf5'), poly(tmpCold3a, '#a5c2fb'), poly(tmpCold3b, '#a5c2fb'),
  poly(tmpCold4a, '#83a5f8'), poly(tmpCold4b, '#92b3fb'), poly(tmpCold4c, '#92b3fb'),
  poly(tmpW0, '#e3d9d3'), poly(tmpW0b, '#e3d9d3'), poly(tmpW1, '#eed0c0'), poly(tmpW2, '#f4c1aa'), poly(tmpW3, '#f6b093'), poly(tmpW4, '#f6a283'), poly(tmpW5, '#f18d6f'),
  poly(tmpSeaBand, '#f18d6f'), poly(tmpSeaDark, '#e8765c'), poly(tmpW6, '#e8765c'), poly(tmpW7, '#dd5e4b'),
  poly(tmpLandBase, '#e8765c'), poly(tmpLandLightA, '#f18d6f'), poly(tmpLandLightB, '#f18d6f'), poly(tmpLandLightC, '#f18d6f'), poly(tmpLandMidA, '#e8765c'), poly(tmpLandMidB, '#e8765c'),
  poly(tmpLand7a, '#dd5e4b'), poly(tmpLand7b, '#dd5e4b'), poly(tmpLand7c, '#dd5e4b'), poly(tmpLand7d, '#dd5e4b'),
  poly(tmpW8a, '#cf453c'), poly(tmpW8b, '#cf453c'), poly(tmpW8c, '#cf453c'), poly(tmpLand8a, '#cf453c'), poly(tmpLand8b, '#cf453c'), poly(tmpLand8c, '#cf453c'), poly(tmpLand8d, '#cf453c'), poly(tmpLand8e, '#cf453c'), poly(tmpW9, '#b81f2c'),
  poly(tmpPale1, '#eed0c0'), poly(tmpPale2a, '#e3d9d3'), poly(tmpPale2b, '#e3d9d3'), poly(tmpPale2c, '#e3d9d3'),
  stroke(segments(tmpHatch), '#333', 1.1),
  ...coasts
];
new Chart(document.getElementById('panelD'), {
  type: 'scatter',
  data: {datasets: tmpLayers.reverse()},
  options: mapOptions(82, 63),
  plugins: [frame]
});

// colour bars: cells between levels plus the two end triangles
function colorBar(id, levels, colors, ticks, lowColor, highColor, tip, title, leftPad, rightPad, digits) {
  const lo = levels[0], hi = levels[levels.length - 1];
  const sets = colors.map((c, i) => flatPoly([[levels[i],0],[levels[i+1],0],[levels[i+1],1],[levels[i],1]], c));
  sets.push(flatPoly([[lo,0],[lo-tip,.5],[lo,1]], lowColor));
  sets.push(flatPoly([[hi,0],[hi+tip,.5],[hi,1]], highColor));
  sets.push(stroke(toPoints([[lo,0],[lo-tip,.5],[lo,1],[hi,1],[hi+tip,.5],[hi,0],[lo,0]]), '#444', 1));
  new Chart(document.getElementById(id), {
    type: 'scatter',
    data: {datasets: sets.reverse()},
    options: {
      layout: {padding: {top: 12, left: leftPad, right: rightPad}},
      scales: {
        x: {
          type: 'linear', min: lo - tip, max: hi + tip,
          grid: {drawOnChartArea: false, tickColor: '#444', tickLength: 5}, border: {display: false},
          ticks: {font: mapFont, padding: 3, maxRotation: 0, autoSkip: false, callback: v => v.toFixed(digits).replace('-', '\u2212')},
          afterBuildTicks: fixTicks(ticks),
          title: {display: true, text: title, font: {size: 25.8, lineHeight: 1}, padding: {top: 0, bottom: 1}},
          afterFit: s => { s.height = 66; }
        },
        y: {display: false, min: 0, max: 1}
      }
    }
  });
}
colorBar('barC', humLevels, humColors, humTicks, '#5b3510', '#12392f', .083, 'Specific Humidity Anomaly (g/kg)', 96, 53, 1);
colorBar('barD', tmpLevels, tmpColors, tmpTicks, '#3b4cc0', '#b2182b', .312, 'Temperature Anomaly (K)', 82, 63, 1);

// text and legends on top of the canvases
function label(text, x, y, size, opts) {
  opts = opts || {};
  const d = document.createElement('div');
  d.className = 'txt';
  d.textContent = text;
  d.style.left = x + 'px';
  d.style.top = y + 'px';
  d.style.fontSize = size + 'px';
  if (opts.color) d.style.color = opts.color;
  if (opts.left) d.style.transform = 'translate(0, -50%)';
  if (opts.rot) d.style.transform = 'translate(-50%, -50%) rotate(-90deg)';
  document.body.appendChild(d);
}
function box(cls, x, y, w, h, bg) {
  const d = document.createElement('div');
  d.className = cls;
  d.style.cssText = `left:${x}px;top:${y}px;width:${w}px;height:${h}px;` + (bg ? `background:${bg};` : '');
  document.body.appendChild(d);
}

label('a', 76, 27.5, 36);
label('b', 637, 27.5, 36);
label('c', 76, 588.5, 36);
label('d', 637, 588.5, 36);
label('Mean Daily Precipitation (mm)', 558, 268.5, 21.9, {color: '#3399ff', rot: true});
label('Relative Change in Frequency (%)', 1133, 268.5, 22, {rot: true});
label('Mean wind (2m/s)', 103, 633.5, 22, {left: true});

box('box', 665.5, 66, 140, 57);
box('swatch', 673, 78.5, 13, 3, '#000');
box('swatch', 692, 78.5, 16, 3, '#000');
box('swatch', 673, 105, 13, 3, '#f01010');
box('swatch', 692, 105, 16, 3, '#f01010');
label('Historical', 724, 80, 17.9, {left: true});
label('RCP8.5', 724, 106.5, 17.9, {left: true});

box('box', 959, 387, 114, 84);
box('swatch', 966.5, 395, 36.5, 13, '#54140f');
box('swatch', 966.5, 421, 36.5, 13, '#ee9322');
box('swatch', 966.5, 448, 36.5, 13, '#f6ea1e');
label('MPI', 1017, 401, 17.5, {left: true});
label('GFDL', 1017, 427.5, 17.5, {left: true});
label('IPSL', 1017, 454, 17.5, {left: true});
</script>
</body>
</html>
